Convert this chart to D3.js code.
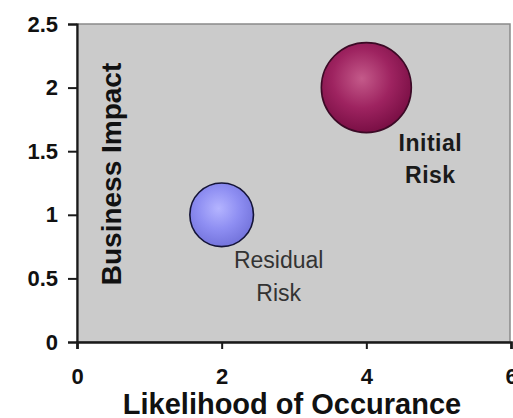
<!DOCTYPE html>
<html>
<head>
<meta charset="utf-8">
<script src="https://cdn.jsdelivr.net/npm/d3@7/dist/d3.min.js"></script>
<style>
  html, body { margin: 0; padding: 0; background: #fff; }
  svg { display: block; font-family: "Liberation Sans", Arial, sans-serif; }
</style>
</head>
<body>
<svg id="chart" width="513" height="418"></svg>
<script>
// Risk bubbles: likelihood (x), business impact (y), bubble size
const riskNames = ["Initial Risk", "Residual Risk"];
const likelihood = [4, 2];
const impact = [2, 1];
const bubbleSize = [8, 4];

const xTicks = [0, 2, 4, 6];
const yTicks = [0, 0.5, 1, 1.5, 2, 2.5];

const margin = { left: 77, right: 2, top: 24, bottom: 76 };
const W = 513, H = 418;

const svg = d3.select("#chart");
const x = d3.scaleLinear().domain([0, 6]).range([margin.left, W - margin.right]);
const y = d3.scaleLinear().domain([0, 2.5]).range([H - margin.bottom, margin.top]);
const r = d3.scaleSqrt().domain([0, 8]).range([0, 45]);

const defs = svg.append("defs");
const grads = [
  { id: "gInitial", hi: "#c45a8a", mid: "#9e2360", lo: "#7a0f45" },
  { id: "gResidual", hi: "#b4b4ff", mid: "#8e8ef2", lo: "#7474dc" }
];
grads.forEach(g => {
  const rg = defs.append("radialGradient").attr("id", g.id)
    .attr("cx", "45%").attr("cy", "40%").attr("r", "60%");
  rg.append("stop").attr("offset", "0%").attr("stop-color", g.hi);
  rg.append("stop").attr("offset", "55%").attr("stop-color", g.mid);
  rg.append("stop").attr("offset", "100%").attr("stop-color", g.lo);
});

// plot area
svg.append("rect")
  .attr("x", x(0)).attr("y", y(2.5))
  .attr("width", x(6) - x(0) - 1).attr("height", y(0) - y(2.5))
  .attr("fill", "#cbcbcb")
  .attr("stroke", "#8a8a8a").attr("stroke-width", 1.5);

// axes
const yAxis = svg.append("g")
  .attr("transform", `translate(${x(0)},0)`)
  .call(d3.axisLeft(y).tickValues(yTicks).tickSize(9).tickPadding(10)
        .tickFormat(d3.format("")));
const xAxis = svg.append("g")
  .attr("transform", `translate(0,${y(0)})`)
  .call(d3.axisBottom(x).tickValues(xTicks).tickSize(7).tickPadding(19)
        .tickFormat(d3.format("d")));

[yAxis, xAxis].forEach(a => {
  a.select(".domain").attr("stroke", "#1a1a1a").attr("stroke-width", 2.2);
  a.selectAll(".tick line").attr("stroke", "#1a1a1a").attr("stroke-width", 2);
  a.selectAll(".tick text")
    .attr("fill", "#111").attr("font-size", 22).attr("font-weight", "bold")
    .attr("font-family", "Liberation Sans, Arial, sans-serif");
});
xAxis.select(".domain").attr("stroke-width", 2.6);

// bubbles
const data = riskNames.map((n, i) => ({ name: n, x: likelihood[i], y: impact[i], s: bubbleSize[i] }));
const grad = ["url(#gInitial)", "url(#gResidual)"];
const edge = ["#3c0a26", "#141438"];

svg.append("g").selectAll("circle").data(data).join("circle")
  .attr("cx", d => x(d.x)).attr("cy", d => y(d.y))
  .attr("r", d => r(d.s))
  .attr("fill", (d, i) => grad[i])
  .attr("stroke", (d, i) => edge[i]).attr("stroke-width", 1.6);

// bubble labels
const lbl = svg.append("g");
const initial = data[0], residual = data[1];
[["Initial", 0], ["Risk", 1]].forEach(([t, k]) => {
  lbl.append("text")
    .attr("x", x(initial.x) + 64).attr("y", y(initial.y) + 63 + k * 32)
    .attr("text-anchor", "middle")
    .attr("font-size", 23).attr("font-weight", "bold").attr("fill", "#1a1a1a")
    .attr("letter-spacing", 0.5)
    .text(t);
});
[["Residual", 0], ["Risk", 1]].forEach(([t, k]) => {
  lbl.append("text")
    .attr("x", x(residual.x) + 57).attr("y", y(residual.y) + 53 + k * 33)
    .attr("text-anchor", "middle")
    .attr("font-size", 23).attr("fill", "#333")
    .text(t);
});

// axis titles
svg.append("text")
  .attr("x", 292).attr("y", 414)
  .attr("text-anchor", "middle")
  .attr("font-size", 29).attr("font-weight", "bold").attr("fill", "#111")
  .text("Likelihood of Occurance");

svg.append("text")
  .attr("transform", `translate(121,174) rotate(-90)`)
  .attr("text-anchor", "middle")
  .attr("font-size", 28).attr("font-weight", "bold").attr("fill", "#111")
  .text("Business Impact");
</script>
</body>
</html>
